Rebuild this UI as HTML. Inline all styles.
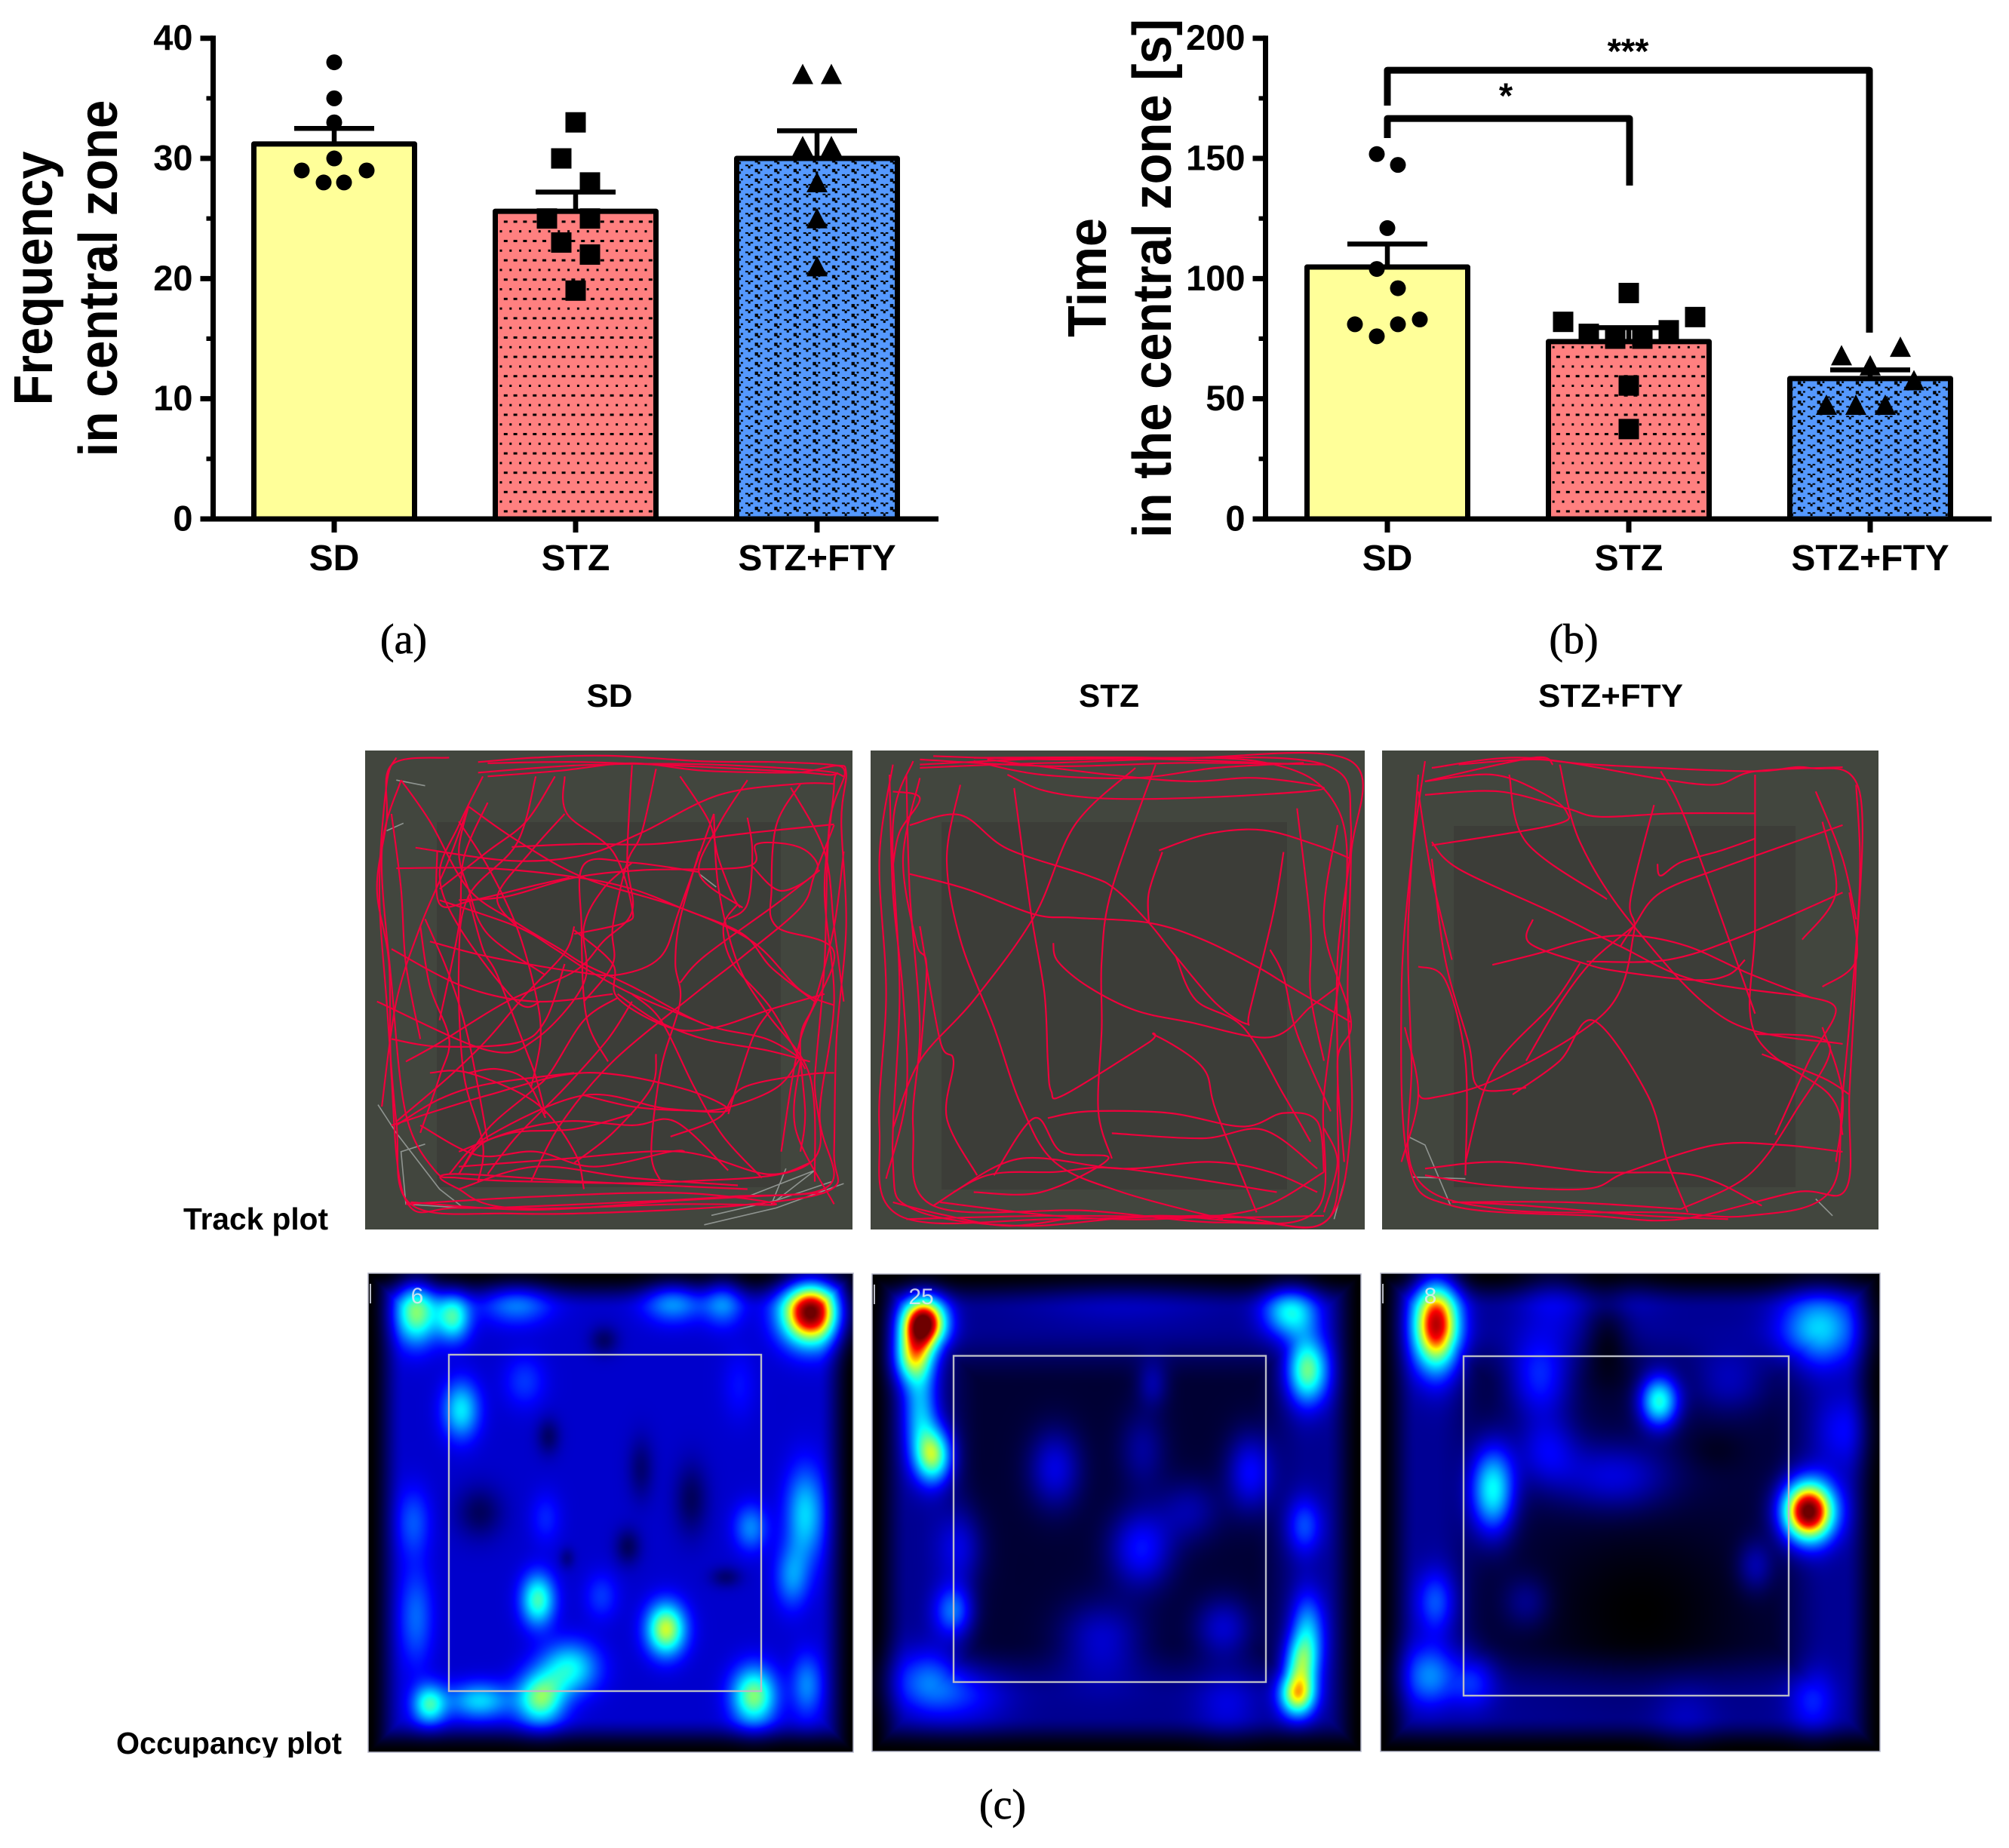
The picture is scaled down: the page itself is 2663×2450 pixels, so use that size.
<!DOCTYPE html>
<html lang="en">
<head>
<meta charset="utf-8">
<title>Central zone behaviour</title>
<style>
html,body{margin:0;padding:0;background:#fff;}
#stage{position:relative;width:2663px;height:2450px;overflow:hidden;background:#fff;}
canvas{position:absolute;display:block;}
#overlay{position:absolute;left:0;top:0;}
text{font-family:"Liberation Sans",Arial,sans-serif;}
.cap{font-family:"Liberation Serif",serif;stroke:#000;stroke-width:.7px;}
</style>
</head>
<body>
<div id="stage">
<canvas id="heat0" width="643" height="635" style="left:488px;top:1688px"></canvas>
<canvas id="heat1" width="648" height="633" style="left:1156px;top:1689px"></canvas>
<canvas id="heat2" width="662" height="634" style="left:1830px;top:1688px"></canvas>
<svg id="overlay" xmlns="http://www.w3.org/2000/svg" width="2663" height="2450" viewBox="0 0 2663 2450">
<defs>
<pattern id="dotsPat" patternUnits="userSpaceOnUse" x="664" y="588.3" width="12.8" height="25.6">
<rect x="-1.5" y="-1.5" width="3" height="3" fill="#000"/>
<rect x="11.3" y="-1.5" width="3" height="3" fill="#000"/>
<rect x="-1.5" y="24.1" width="3" height="3" fill="#000"/>
<rect x="11.3" y="24.1" width="3" height="3" fill="#000"/>
<rect x="3.8" y="11.3" width="5" height="3" fill="#000"/>
</pattern>
<pattern id="weavePat" patternUnits="userSpaceOnUse" x="986.6" y="562.5" width="25.6" height="12.8">
<g fill="#000">
<rect x="1.4" y="1.4" width="4" height="2"/><rect x="5" y="3" width="3" height="3.4"/><rect x="8" y="1.4" width="3.6" height="2"/>
<rect x="14" y="7" width="4.4" height="4.4"/><rect x="17.6" y="10.4" width="3.4" height="2.4"/><rect x="17.6" y="0" width="3.4" height="0.8"/><rect x="21" y="7" width="2.8" height="2.4"/>
</g>
</pattern>
<clipPath id="occClip"><rect x="100" y="2270" width="420" height="60"/></clipPath>
</defs>

<g id="chartA">
<text transform="translate(69,369) rotate(-90)" text-anchor="middle" font-size="72" font-weight="bold" textLength="337" lengthAdjust="spacingAndGlyphs">Frequency</text>
<text transform="translate(155,369) rotate(-90)" text-anchor="middle" font-size="72" font-weight="bold" textLength="473" lengthAdjust="spacingAndGlyphs">in central zone</text>
</g>
<g id="chartB">
<text transform="translate(1466,368) rotate(-90)" text-anchor="middle" font-size="72" font-weight="bold" textLength="158" lengthAdjust="spacingAndGlyphs">Time</text>
<text transform="translate(1552,369) rotate(-90)" text-anchor="middle" font-size="72" font-weight="bold" textLength="688" lengthAdjust="spacingAndGlyphs">in the central zone [s]</text>
</g>

<text class="cap" x="535" y="866" text-anchor="middle" font-size="56">(a)</text>
<text class="cap" x="2086" y="866" text-anchor="middle" font-size="56">(b)</text>
<text class="cap" x="1329" y="2411" text-anchor="middle" font-size="56">(c)</text>

<text x="808" y="937" text-anchor="middle" font-size="43" font-weight="bold" textLength="61" lengthAdjust="spacingAndGlyphs">SD</text>
<text x="1470" y="937" text-anchor="middle" font-size="43" font-weight="bold" textLength="80" lengthAdjust="spacingAndGlyphs">STZ</text>
<text x="2135" y="937" text-anchor="middle" font-size="43" font-weight="bold" textLength="192" lengthAdjust="spacingAndGlyphs">STZ+FTY</text>
<text x="243" y="1630" font-size="41" font-weight="bold" textLength="192" lengthAdjust="spacingAndGlyphs">Track plot</text>
<text x="154" y="2325" font-size="41" font-weight="bold" textLength="299" lengthAdjust="spacingAndGlyphs" clip-path="url(#occClip)">Occupancy plot</text>

<g id="tracks"></g>
<g id="heatOverlay"></g>
</svg>
</div>

<script>
/* ---------- bar chart data ---------- */
const categories = ['SD', 'STZ', 'STZ+FTY'];
const freqTicks = [0, 10, 20, 30, 40];
const freqMeans = [31.2, 25.6, 30];
const freqErrorTops = [32.5, 27.2, 32.3];
const freqPointsSD = [38, 35, 33, 30, 29, 29, 28, 28];
const freqPointsSTZ = [33, 30, 28, 25, 25, 23, 22, 19];
const freqPointsFTY = [37, 37, 31, 31, 28, 25, 21];
const freqJitterSD = [0, 0, 0, 0, -43, 43, -14, 13];
const freqJitterSTZ = [0, -19, 19, -38, 19, -19, 19, 0];
const freqJitterFTY = [-19, 19, -19, 19, 0, 0, 0];

const timeTicks = [0, 50, 100, 150, 200];
const timeMeans = [104.8, 73.8, 58.4];
const timeErrorTops = [114.4, 79.6, 62];
const timePointsSD = [151.8, 147.3, 121, 104, 96, 83, 81, 81, 76];
const timePointsSTZ = [94, 84, 82, 78.5, 77, 75, 75, 55.5, 37.4];
const timePointsFTY = [71.5, 68, 63.8, 57.6, 47.4, 47.4, 47.4];
const timeJitterSD = [-14, 14, 0, -14, 14, 43, 14, -43, -14];
const timeJitterSTZ = [0, 88, -87, 53, -53, -18, 18, 0, 0];
const timeJitterFTY = [40, -38, 0, 58, -58, -19, 20];
const outerBracketLevel = 186.7;
const innerBracketLevel = 166.6;

/* ---------- track plot data ---------- */
const trackSD = [
[[510,250],[490,320],[475,600],[490,900],[510,1220],[540,1440],[750,1465],[1000,1460],[1250,1440],[1415,1400],[1420,1300],[1425,1000],[1445,700],[1435,420],[1445,290],[1420,270],[1300,262],[1150,260],[950,245],[800,250],[680,262]],
[[520,310],[480,500],[500,850],[530,1200],[590,1350],[640,1370],[800,1380],[1100,1380],[1370,1330],[1380,1100],[1400,800],[1410,430],[1440,280],[1340,290],[1150,285],[1000,265],[850,285],[700,300]],
[[700,265],[900,262],[1150,275],[1400,295],[1420,320],[1400,600],[1420,900],[1390,1200],[1410,1390],[1200,1420],[900,1440],[640,1450],[530,1430],[500,1100],[495,800],[470,600],[490,420],[500,270],[620,250]],
[[530,1440],[800,1420],[1100,1410],[1300,1440],[1100,1440],[750,1450],[640,1400],[620,1360],[900,1380],[1240,1400]],
[[500,1230],[700,1150],[900,1090],[1100,1130],[1200,1190],[1070,1185],[900,1150],[700,1260],[620,1360]],
[[660,380],[760,470],[900,570],[1100,650],[1250,740],[1350,870],[1420,910]],
[[510,545],[700,545],[880,568],[1000,600],[1110,655],[1230,720],[1290,810],[1380,900]],
[[550,490],[750,525],[900,510],[1020,450],[1180,350],[1345,320],[1420,320]],
[[750,488],[900,480],[1050,480],[1250,450],[1420,428]],
[[1140,555],[1000,530],[900,535],[895,700],[905,940],[950,1060]],
[[580,740],[700,780],[880,820],[975,828],[1060,780],[1100,650],[1170,400]],
[[640,630],[740,620],[880,570],[1020,550],[1240,540],[1260,480],[1350,490],[1385,550],[1310,605],[1250,540]],
[[660,380],[620,520],[560,700],[510,900],[480,1180]],
[[860,300],[865,400],[960,500],[1000,650],[985,690],[880,720]],
[[880,710],[960,800],[970,890],[1080,970],[1170,970],[1290,920],[1400,880]],
[[660,620],[690,760],[720,830],[780,1030],[800,1100],[820,1200]],
[[1000,270],[990,520],[1000,660],[940,740],[880,820],[740,900],[600,1010],[530,1060]],
[[1050,1040],[1040,1130],[960,1250],[880,1330]],
[[1140,500],[1100,680],[1090,800],[1100,900],[1060,1080],[1040,1300],[1060,1380]],
[[1170,400],[1180,600],[1220,800],[1280,930],[1370,1100],[1380,1380]],
[[600,630],[760,700],[840,760],[900,810],[1000,880],[1150,960]],
[[470,900],[700,1030],[800,1000],[900,850],[900,700],[940,600],[1000,530]],
[[800,300],[760,480],[660,620],[640,800],[650,1090],[690,1280],[680,1380]],
[[500,760],[650,860],[800,900],[960,880]],
[[580,1090],[660,1090],[800,1170],[880,1300],[900,1400]],
[[650,1340],[700,1270],[850,1220],[1000,1230],[1090,1220],[1200,1350]],
[[1370,1060],[1280,1030],[1150,1000],[1050,950],[970,880]],
[[1420,1090],[1360,1095],[1230,1130],[1180,1210],[1080,1260]],
[[640,1340],[850,1320],[1100,1300],[1280,1360],[1370,1330]],
[[880,1090],[700,1120],[600,1160],[510,1230]],
[[1350,320],[1300,430],[1290,600],[1300,700],[1420,770],[1350,1000],[1310,1300]],
[[1220,640],[1190,700],[1210,800],[1290,920],[1360,1080]],
[[570,680],[620,830],[660,1000],[700,1270]],
[[690,300],[640,430],[600,560],[640,700],[760,900],[810,900]],
[[1240,310],[1180,430],[1140,560],[1230,650]],
[[1350,1060],[1340,1240],[1420,1440]],
[[640,420],[700,540],[760,700],[800,880],[810,1000],[790,1130]],
[[700,370],[650,520],[640,700],[600,950]],
[[860,400],[790,500],[720,620],[760,700]],
[[595,500],[600,640],[670,630],[800,590],[870,570]],
[[1240,410],[1250,500],[1240,640],[1200,680]],
[[1100,300],[1160,420],[1180,520],[1210,620],[1225,650]],
[[1420,430],[1380,560],[1350,650],[1230,780],[1130,880],[960,1060],[850,1230],[790,1380]],
[[1390,550],[1300,640],[1150,780],[1100,850]],
[[970,890],[900,950],[830,1090],[790,1140],[700,1240],[640,1360]],
[[560,700],[580,860],[620,1000],[600,1100],[560,1250]],
[[520,310],[580,420],[660,600],[760,690],[850,760],[900,800],[1000,860],[1150,960],[1280,1000],[1360,1060]],
[[1000,880],[1060,950],[1130,1130],[1190,1260],[1270,1370]],
[[1290,920],[1250,1000],[1200,1200]],
[[500,1000],[600,1020],[760,1010],[820,950],[860,800]],
[[510,1220],[620,1100],[700,1000],[780,880],[860,770],[880,700]],
[[660,380],[640,500],[660,600],[700,720],[820,830]],
[[1050,280],[1020,450],[990,530],[960,700],[960,800],[900,900]],
[[900,1150],[1000,1180],[1100,1190],[1190,1185],[1300,1130],[1350,1050]],
[[640,1300],[750,1250],[880,1240],[1000,1200]],
[[560,1230],[680,1310],[800,1300],[920,1340],[1080,1300],[1110,1300]],
[[700,1360],[760,1260],[860,1130],[950,1000],[1000,900]],
[[820,1210],[780,1110],[720,1080],[660,1090]],
[[640,1400],[800,1340],[1000,1370],[1220,1390]],
[[600,600],[700,500],[780,420],[840,300]],
[[500,400],[520,600],[530,800],[560,1000]],
[[1440,500],[1420,700],[1380,900],[1350,1000],[1360,1200],[1350,1300]],
[[1330,330],[1400,500],[1420,700],[1440,900]],
[[680,290],[900,270],[1150,268],[1390,285],[1440,300]],
[[540,1435],[800,1455],[1100,1430],[1400,1410]]
];
const trackSTZ = [
[[60,120],[40,400],[50,800],[40,1200],[70,1460],[300,1470],[550,1460],[700,1480],[740,1200],[735,800],[740,400],[740,110],[500,100],[300,105],[120,95]],
[[90,110],[60,300],[70,800],[60,1300],[90,1440],[250,1490],[450,1460],[600,1480],[710,1460],[720,1100],[720,700],[740,300],[700,120],[450,100],[180,100]],
[[80,150],[85,500],[100,900],[90,1200],[120,1430],[350,1445],[550,1480],[690,1440],[700,1100],[730,600],[720,250],[600,110],[300,115],[100,130]],
[[130,1420],[300,1460],[450,1470],[600,1440],[700,1330]],
[[180,110],[280,150],[420,160],[540,130],[670,115]],
[[230,150],[280,195],[350,218],[450,222],[600,210],[700,190],[600,160],[500,170],[380,150],[200,105]],
[[85,300],[160,270],[230,370],[350,450],[390,490],[440,590],[480,690],[540,830],[585,890],[590,850],[625,560],[640,380]],
[[85,445],[170,490],[270,565],[330,575],[440,590],[520,640],[600,720],[650,780],[740,885]],
[[455,375],[530,325],[610,315],[690,360],[740,400]],
[[460,380],[440,500],[440,590]],
[[298,650],[305,705],[350,780],[420,850],[500,885],[620,930],[680,840],[720,780]],
[[240,190],[265,560],[285,800],[290,1000],[295,1090],[315,1100],[440,945],[450,925],[520,1020],[540,1150],[600,1450]],
[[450,120],[385,490],[370,700],[370,900],[365,1150],[385,1290]],
[[420,130],[330,300],[270,570],[180,820],[100,1000],[60,1200]],
[[160,180],[140,400],[160,640],[210,900],[250,1130],[300,1300],[400,1390],[550,1470]],
[[290,1170],[350,1150],[470,1155],[580,1195],[640,1155],[690,1180],[700,1330]],
[[385,1215],[520,1230],[610,1205],[690,1320]],
[[120,1430],[200,1340],[300,1330],[400,1320],[630,1390]],
[[150,1390],[250,1290],[400,1320],[530,1300],[620,1330],[690,1390]],
[[180,1390],[280,1390],[380,1290],[310,1270],[270,1170],[210,1340]],
[[100,600],[130,940],[150,1000],[140,1170],[185,1340]],
[[620,670],[640,750],[660,920],[710,1150]],
[[660,250],[680,600],[680,800],[700,1000]],
[[480,690],[510,820],[580,900],[640,1100],[680,1240]],
[[60,200],[100,220],[70,320],[60,420]],
[[700,1200],[720,1300],[700,1450]],
[[55,150],[60,500],[75,800],[80,1100],[50,1350]],
[[100,160],[75,400],[95,650],[110,720],[100,1000]],
[[720,300],[700,600],[740,880],[720,1000],[730,1300]],
[[100,105],[300,125],[500,115],[700,120]],
[[100,120],[350,100],[650,118]],
[[80,1470],[300,1460],[540,1465],[700,1460]],
[[60,1420],[130,1455],[230,1490],[330,1465]]
];
const trackFTY = [
[[850,110],[830,400],[815,800],[825,1300],[890,1430],[1100,1460],[1230,1470],[1400,1390],[1475,1380],[1480,1100],[1490,700],[1495,200],[1420,130],[1330,140],[1100,120],[1010,105],[900,120]],
[[840,150],[825,600],[830,1000],[835,1340],[960,1440],[1200,1450],[1330,1460],[1450,1390],[1470,1100],[1495,500],[1490,180]],
[[850,210],[960,200],[1060,250],[1110,275],[1220,265],[1340,265]],
[[850,170],[950,150],[1020,200],[1060,260],[1040,300],[860,360]],
[[860,130],[1000,100],[1190,160]],
[[1200,140],[1240,300],[1340,860]],
[[1050,120],[1080,350],[1160,600],[1300,880],[1470,950]],
[[860,350],[900,430],[1040,560],[1140,660],[1250,760],[1420,810]],
[[1340,150],[1340,600],[1340,920],[1450,1100],[1470,1220]],
[[1190,240],[1155,520],[1160,620],[1120,850],[960,1050],[860,1110],[840,1100]],
[[950,715],[1020,680],[1090,640],[1160,628],[1240,660],[1330,740],[1420,810]],
[[1090,705],[1210,700],[1320,630],[1470,500]],
[[1010,580],[1005,650],[1085,710],[1140,735],[1250,760],[1300,745],[1325,700]],
[[1340,340],[1290,375],[1230,410],[1200,450],[1195,415]],
[[1470,300],[1300,420],[1200,500],[1160,600],[1140,660]],
[[980,1100],[1050,1000],[1100,880],[1180,1100],[1210,1300],[1240,1450]],
[[1080,710],[1040,830],[950,1030],[910,1300]],
[[860,400],[880,700],[915,950],[930,1080],[1000,1080]],
[[840,720],[880,760],[910,1000],[910,1340]],
[[850,1320],[960,1300],[1100,1330],[1250,1340],[1350,1430]],
[[850,1340],[950,1370],[1090,1380],[1150,1330],[1280,1250],[1380,1250],[1470,1270]],
[[890,1420],[1060,1420],[1230,1440]],
[[1350,980],[1440,1050],[1480,1100]],
[[1370,1220],[1420,1000],[1460,850],[1420,810]],
[[1230,1440],[1330,1340],[1400,1150],[1450,950],[1340,920]],
[[975,150],[1000,350],[1120,520]],
[[1430,200],[1470,400],[1490,580]],
[[1440,290],[1460,500],[1410,640]],
[[1190,160],[1280,180],[1340,140],[1470,128]],
[[820,900],[840,1100],[815,1300]],
[[840,200],[860,450],[890,700]],
[[1040,120],[1010,100],[850,170]],
[[1460,1300],[1470,1100],[1440,900]],
[[900,1420],[1000,1430],[1180,1460],[1300,1470]],
[[1160,600],[1100,700],[1050,830],[1000,1000]],
[[1440,780],[1490,700],[1480,500]]
];
const strayTracksSD = [
[[472,1175],[510,1250],[600,1400],[650,1450],[530,1440],[520,1300],[570,1280]],
[[1150,1495],[1300,1450],[1440,1385]],
[[1165,1470],[1300,1430],[1415,1380]],
[[1240,1420],[1380,1350],[1290,1440],[1320,1345]],
[[510,310],[570,325]],
[[490,445],[525,425]],
[[1140,560],[1175,595]]
];
const strayTracksSTZ = [[[732,1345],[715,1470]]];
const strayTracksFTY = [
[[825,1225],[850,1250],[888,1430]],
[[830,1345],[910,1350]],
[[1430,1410],[1455,1460]]
];

/* ---------- occupancy blobs: [x, y, level, spreadX, spreadY] ---------- */
const occupancySD = [
[1345,158,1.02,22,24],[600,158,.62,16,24],[670,170,.55,13,18],[790,135,.36,26,16],
[1085,130,.38,22,16],[1180,130,.37,15,18],[685,415,.48,14,22],[805,340,.30,16,20],
[1210,350,.26,13,26],[595,710,.33,13,26],[845,700,.28,12,20],[1232,725,.38,13,18],
[1335,690,.46,15,36],[1310,855,.38,13,24],[830,915,.56,13,20],[950,905,.30,13,18],
[1072,992,.68,15,20],[600,960,.35,13,38],[890,1095,.50,22,20],[835,1175,.60,18,20],
[720,1180,.46,24,14],[625,1190,.54,13,15],[1238,1168,.62,17,22],[1338,1140,.38,12,24],
[955,232,.10,11,11],[850,485,.10,9,14],[720,685,.09,18,20],[1025,570,.11,10,24],
[1120,650,.09,13,28],[1000,775,.09,10,14],[1185,855,.11,12,8],[885,805,.13,6,8]
];
const occupancySTZ = [
[105,185,1.03,17,19],[90,275,.60,15,20],[100,420,.42,13,38],[120,535,.60,14,21],
[650,158,.50,21,19],[675,310,.60,16,26],[670,720,.32,14,22],[675,1000,.42,13,30],
[660,1165,.68,14,17],[665,1080,.45,13,20],[150,945,.35,15,20],[160,780,.22,18,30],
[300,570,.22,20,30],[428,780,.26,24,30],[590,580,.25,18,30],[110,1130,.34,28,24],
[170,1170,.24,34,22],[370,1020,.20,32,30],[550,990,.20,22,24],[555,1190,.22,24,24],
[445,345,.16,12,18],[430,520,.15,18,30],[500,680,.16,24,24],[400,130,.17,70,20]
];
const occupancyFTY = [
[866,190,.93,18,34],[1418,682,1.03,20,23],[1435,200,.46,30,28],[1197,392,.52,15,20],
[950,625,.50,17,34],[1020,330,.28,24,30],[1470,470,.25,20,28],[865,920,.33,15,24],
[855,1115,.38,20,24],[920,1125,.28,18,22],[1425,1180,.28,18,24],[1235,1220,.20,24,26],
[1130,590,.22,44,26],[1030,520,.22,24,28],[1300,340,.18,30,24],[1040,120,.20,26,26],
[1150,120,.15,26,20],[1340,825,.18,14,20],[1000,920,.15,18,20],[1170,950,.0,80,70],
[1280,520,.03,22,16],[1120,220,.03,18,30]
];
const occupancyBands = [0.2, 0.14, 0.145];
const occupancyCentres = [0.2, 0.05, 0.06];
const occupancyPeakLabels = ['6', '25', '8'];

/* ---------- svg helpers ---------- */
const NS = 'http://www.w3.org/2000/svg';
function make(tag, parent, props) {
  const n = document.createElementNS(NS, tag);
  for (const k in props) n.setAttribute(k, props[k]);
  parent.appendChild(n);
  return n;
}

/* ---------- bar charts ---------- */
function drawChart(root, o) {
  const yPos = v => o.y0 - (v / o.yMax) * (o.y0 - o.yTop);
  const xPos = i => o.firstCentre + i * o.step;
  const halfBar = 106.5;
  const capHalf = 53;

  o.means.forEach((m, i) => {
    const bar = make('rect', root, {x: xPos(i) - halfBar, y: yPos(m), width: halfBar * 2, height: o.y0 - yPos(m), fill: o.fills[i], stroke: '#000', 'stroke-width': 7, 'stroke-linejoin': 'round'});
    
    
  });

  o.means.forEach((m, i) => {
    const err = make('path', root, {d: 'M' + xPos(i) + ' ' + yPos(m) + 'V' + yPos(o.errors[i]) + 'M' + (xPos(i) - capHalf) + ' ' + yPos(o.errors[i]) + 'H' + (xPos(i) + capHalf), stroke: '#000', 'stroke-width': 6.5, fill: 'none'});
    
    
  });

  o.points.forEach((series, i) => {
    series.forEach((v, k) => {
      const cx = xPos(i) + o.jitter[i][k];
      const cy = yPos(v);
      let mark;
      if (i === 0) mark = make('circle', root, {cx: cx, cy: cy, r: 10.5, fill: '#000'});
      else if (i === 1) mark = make('rect', root, {x: cx - 13.5, y: cy - 13.5, width: 27, height: 27, fill: '#000'});
      else mark = make('polygon', root, {points: (cx - 14) + ',' + (cy + 13) + ' ' + (cx + 14) + ',' + (cy + 13) + ' ' + cx + ',' + (cy - 14), fill: '#000'});
      
      
    });
  });

  const yAxis = make('line', root, {x1: o.axisX, x2: o.axisX, y1: yPos(o.yMax) - 3.5, y2: o.y0 + 3.5, stroke: '#000', 'stroke-width': 7});
  
  
  const xAxis = make('line', root, {x1: o.axisX - 17, x2: o.axisEnd, y1: o.y0, y2: o.y0, stroke: '#000', 'stroke-width': 7});
  
  

  o.ticks.forEach((t, i) => {
    const tick = make('line', root, {x1: o.axisX - 17, x2: o.axisX, y1: yPos(t), y2: yPos(t), stroke: '#000', 'stroke-width': 7});
    
    
    const label = make('text', root, {x: o.axisX - 27, y: yPos(t) + 15.5, 'text-anchor': 'end', 'font-size': 47, 'font-weight': 'bold'});
    label.textContent = String(t);
    
    
    if (i < o.ticks.length - 1) {
      const mid = (t + o.ticks[i + 1]) / 2;
      const minor = make('line', root, {x1: o.axisX - 9, x2: o.axisX, y1: yPos(mid), y2: yPos(mid), stroke: '#000', 'stroke-width': 6});
      
      
    }
  });

  categories.forEach((c, i) => {
    const tick = make('line', root, {x1: xPos(i), x2: xPos(i), y1: o.y0, y2: o.y0 + 18, stroke: '#000', 'stroke-width': 7});
    
    
    const label = make('text', root, {x: xPos(i), y: 756, 'text-anchor': 'middle', 'font-size': 48, 'font-weight': 'bold'});
    label.textContent = c;
    
    
  });
  return {yPos: yPos, xPos: xPos};
}

const barFills = ['#ffff99', '#ff8080', '#5599ff'];

function drawPatternedFills(root, o) {
  const yPos = v => o.y0 - (v / o.yMax) * (o.y0 - o.yTop);
  const patterns = [null, 'url(#dotsPat)', 'url(#weavePat)'];
  o.means.forEach((m, i) => {
    if (!patterns[i]) return;
    const cx = o.firstCentre + i * o.step;
    const fillRect = make('rect', root, {x: cx - 103, y: yPos(m) + 3.5, width: 206, height: o.y0 - yPos(m) - 7, fill: patterns[i]});
    
    
  });
}

const chartAOptions = {y0: 688, yTop: 50.7, yMax: 40, axisX: 282.5, axisEnd: 1244, firstCentre: 443, step: 320,
  means: freqMeans, errors: freqErrorTops, ticks: freqTicks, fills: barFills,
  points: [freqPointsSD, freqPointsSTZ, freqPointsFTY], jitter: [freqJitterSD, freqJitterSTZ, freqJitterFTY]};
const chartBOptions = {y0: 688, yTop: 50.7, yMax: 200, axisX: 1677.5, axisEnd: 2640, firstCentre: 1839, step: 320,
  means: timeMeans, errors: timeErrorTops, ticks: timeTicks, fills: barFills,
  points: [timePointsSD, timePointsSTZ, timePointsFTY], jitter: [timeJitterSD, timeJitterSTZ, timeJitterFTY]};

/* patterned fills sit directly above the bar fills, under error bars and points */
function renderChart(rootId, o) {
  const root = document.getElementById(rootId);
  const bg = make('g', root, {});
  
  
  const scale = drawChart(bg, o);
  const patternLayer = make('g', bg, {});
  
  
  drawPatternedFills(patternLayer, o);
  bg.insertBefore(patternLayer, bg.children[o.means.length]);
  return scale;
}

renderChart('chartA', chartAOptions);
const scaleB = renderChart('chartB', chartBOptions);

/* significance brackets */
(function () {
  const root = document.getElementById('chartB');
  const x0 = scaleB.xPos(0), x1 = scaleB.xPos(1) + 1, x2 = scaleB.xPos(2) - 1;
  const outerY = scaleB.yPos(outerBracketLevel), innerY = scaleB.yPos(innerBracketLevel);
  const outer = make('path', root, {d: 'M' + x0 + ' 140V' + outerY + 'H' + x2 + 'V441', fill: 'none', stroke: '#000', 'stroke-width': 9, 'stroke-linejoin': 'round'});
  
  
  const inner = make('path', root, {d: 'M' + x0 + ' 183V' + innerY + 'H' + x1 + 'V246', fill: 'none', stroke: '#000', 'stroke-width': 9, 'stroke-linejoin': 'round'});
  
  
  const s1 = make('text', root, {x: 1996, y: 143, 'text-anchor': 'middle', 'font-size': 47, 'font-weight': 'bold'});
  s1.textContent = '*';
  
  
  const s2 = make('text', root, {x: 2158, y: 84, 'text-anchor': 'middle', 'font-size': 47, 'font-weight': 'bold'});
  s2.textContent = '***';
  
  
})();

/* ---------- track plots ---------- */
function smoothPath(pts, mapX, mapY) {
  const p = pts.map(q => [mapX(q[0]), mapY(q[1])]);
  let d = 'M' + p[0][0].toFixed(1) + ' ' + p[0][1].toFixed(1);
  for (let i = 0; i < p.length - 1; i++) {
    const a = p[Math.max(0, i - 1)], b = p[i], c = p[i + 1], e = p[Math.min(p.length - 1, i + 2)];
    d += 'C' + (b[0] + (c[0] - a[0]) / 6).toFixed(1) + ' ' + (b[1] + (c[1] - a[1]) / 6).toFixed(1) + ' ' +
         (c[0] - (e[0] - b[0]) / 6).toFixed(1) + ' ' + (c[1] - (e[1] - b[1]) / 6).toFixed(1) + ' ' +
         c[0].toFixed(1) + ' ' + c[1].toFixed(1);
  }
  return d;
}
function drawTrackPanel(name, box, inner, lines, stray, mapX, mapY) {
  const parent = document.getElementById('tracks');
  const g = make('g', parent, {});
  
  
  const arena = make('rect', g, {x: box[0], y: box[1], width: box[2] - box[0], height: box[3] - box[1], fill: '#42463e'});
  
  
  const centre = make('rect', g, {x: inner[0], y: inner[1], width: inner[2] - inner[0], height: inner[3] - inner[1], fill: '#3c3d38'});
  
  
  stray.forEach(pts => {
    const s = make('polyline', g, {points: pts.map(q => mapX(q[0]).toFixed(1) + ',' + mapY(q[1]).toFixed(1)).join(' '), fill: 'none', stroke: '#8f9490', 'stroke-width': 1.6});
    
    
  });
  lines.forEach(pts => {
    const t = make('path', g, {d: smoothPath(pts, mapX, mapY), fill: 'none', stroke: '#f0003c', 'stroke-width': 2.2, 'stroke-linejoin': 'round'});
    
    
  });
}
drawTrackPanel('sd', [484, 995, 1130, 1630], [579, 1090, 1035, 1574], trackSD, strayTracksSD, z => 200 + z / 1.568, z => 880 + z / 2.01);
drawTrackPanel('stz', [1154, 995, 1809, 1630], [1248, 1090, 1706, 1577], trackSTZ, strayTracksSTZ, z => 1130 + z / 1.12, z => 960 + z / 2.24);
drawTrackPanel('stz-fty', [1832, 995, 2490, 1630], [1927, 1095, 2380, 1574], trackFTY, strayTracksFTY, z => 1130 + z / 1.12, z => 960 + z / 2.24);

/* ---------- occupancy heatmaps ---------- */
const heatStops = [[0,0,0,0],[.25,0,0,255],[.5,0,255,255],[.62,130,255,120],[.72,255,255,0],[.86,255,0,0],[1,110,0,0]];
function heatColour(v) {
  v = Math.max(0, Math.min(1, v));
  for (let i = 1; i < heatStops.length; i++) {
    if (v <= heatStops[i][0]) {
      const a = heatStops[i - 1], b = heatStops[i], t = (v - a[0]) / (b[0] - a[0]);
      return [a[1] + (b[1] - a[1]) * t, a[2] + (b[2] - a[2]) * t, a[3] + (b[3] - a[3]) * t];
    }
  }
  return [110, 0, 0];
}
function smooth(a, b, x) {
  const t = Math.max(0, Math.min(1, (x - a) / (b - a)));
  return t * t * (3 - 2 * t);
}
function drawHeat(id, blobs, band, centre, originX, originY, scaleX, scaleY) {
  const canvas = document.getElementById(id);
  const W = canvas.width, H = canvas.height;
  const ctx = canvas.getContext('2d');
  const img = ctx.createImageData(W, H);
  const spread = 1.22;
  const base = (x, y) => {
    const d = Math.min(x, W - x, y, H - y);
    const fade = smooth(0, 48, d);
    return fade * (band + (centre - band) * smooth(70, 150, d));
  };
  const list = blobs.map(b => {
    const bx = (b[0] - originX) / scaleX, by = (b[1] - originY) / scaleY;
    const sx = b[3] * spread, sy = b[4] * spread;
    return [bx, by, b[2] - base(bx, by), 2 * sx * sx, 2 * sy * sy];
  });
  for (let y = 0; y < H; y++) {
    for (let x = 0; x < W; x++) {
      let v = base(x, y);
      for (let k = 0; k < list.length; k++) {
        const b = list[k], dx = x - b[0], dy = y - b[1];
        const e = dx * dx / b[3] + dy * dy / b[4];
        if (e < 10) v += b[2] * Math.exp(-e);
      }
      const c = heatColour(v), p = (y * W + x) * 4;
      img.data[p] = c[0];
      img.data[p + 1] = c[1];
      img.data[p + 2] = c[2];
      img.data[p + 3] = 255;
    }
  }
  ctx.putImageData(img, 0, 0);
}
drawHeat('heat0', occupancySD, occupancyBands[0], occupancyCentres[0], 510, 56, 1.425, 1.985);
drawHeat('heat1', occupancySTZ, occupancyBands[1], occupancyCentres[1], 29, 58, 1.12, 1.985);
drawHeat('heat2', occupancyFTY, occupancyBands[2], occupancyCentres[2], 784, 56, 1.12, 1.985);

(function () {
  const parent = document.getElementById('heatOverlay');
  const zones = [[595, 1796, 1009, 2242], [1264, 1797.5, 1678, 2230], [1940, 1798, 2371, 2248]];
  const frames = [[488, 1688, 1131, 2323], [1156, 1689, 1804, 2322], [1830, 1688, 2492, 2322]];
  const labelX = [553, 1221, 1896];
  zones.forEach((z, i) => {
    const f = frames[i];
    const frame = make('rect', parent, {x: f[0], y: f[1], width: f[2] - f[0], height: f[3] - f[1], fill: 'none', stroke: '#b4b6c8', 'stroke-width': 1.5});
    
    
    const zone = make('rect', parent, {x: z[0], y: z[1], width: z[2] - z[0], height: z[3] - z[1], fill: 'none', stroke: '#b9bbc6', 'stroke-width': 2.4});
    
    
    const bar = make('line', parent, {x1: f[0] + 3, x2: f[0] + 3, y1: f[1] + 14, y2: f[1] + 40, stroke: '#b9bbc6', 'stroke-width': 2});
    
    
    const label = make('text', parent, {x: labelX[i], y: f[1] + 40, 'text-anchor': 'middle', 'font-size': 30, fill: '#e6e8f0', 'fill-opacity': .85});
    label.textContent = occupancyPeakLabels[i];
    
    
  });
})();
</script>
</body>
</html>
